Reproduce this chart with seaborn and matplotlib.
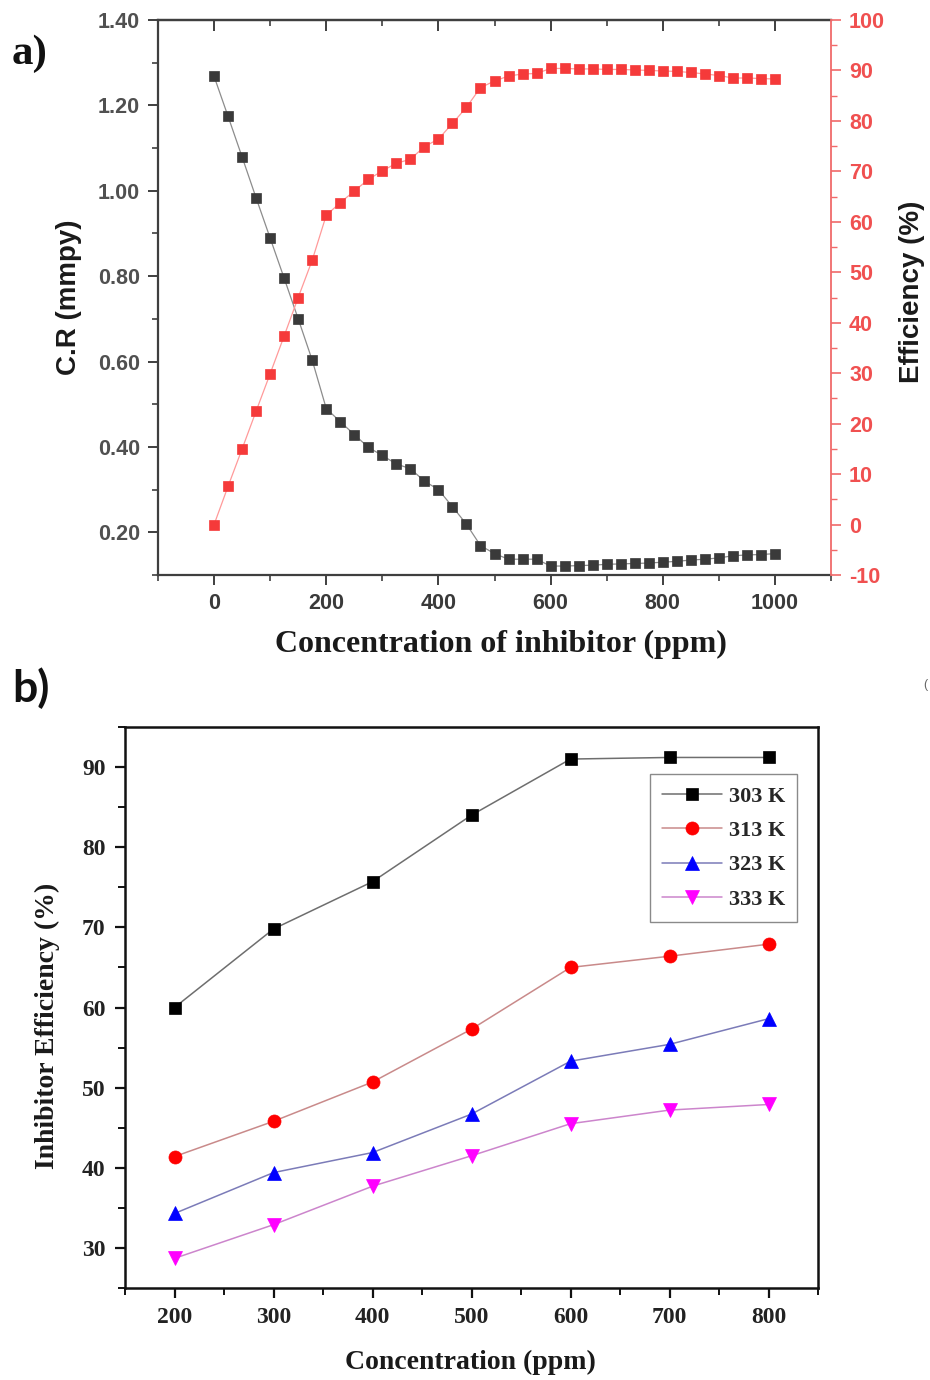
import matplotlib
matplotlib.use("Agg")
import matplotlib.pyplot as plt
import seaborn as sns
from matplotlib.ticker import FixedLocator, FormatStrFormatter

# ---------------- data: panel a ----------------
conc_a = list(range(0, 1001, 25))
cr_mmpy = [1.268, 1.174, 1.079, 0.983, 0.889, 0.795, 0.700, 0.603, 0.490, 0.459,
           0.429, 0.399, 0.380, 0.360, 0.349, 0.320, 0.300, 0.260, 0.219, 0.169,
           0.150, 0.137, 0.137, 0.137, 0.121, 0.121, 0.122, 0.123, 0.125, 0.126,
           0.127, 0.128, 0.130, 0.132, 0.135, 0.137, 0.140, 0.145, 0.147, 0.148,
           0.150]
efficiency_a = [0.0, 7.6, 15.0, 22.5, 29.9, 37.4, 45.0, 52.4, 61.3, 63.8,
                66.1, 68.4, 70.1, 71.6, 72.4, 74.9, 76.4, 79.5, 82.7, 86.6,
                87.9, 88.9, 89.3, 89.4, 90.4, 90.4, 90.3, 90.3, 90.2, 90.2,
                90.1, 90.0, 89.9, 89.8, 89.6, 89.3, 89.0, 88.5, 88.5, 88.4,
                88.3]

# ---------------- data: panel b ----------------
conc_b = [200, 300, 400, 500, 600, 700, 800]
eff_303 = [60.0, 69.8, 75.7, 84.0, 91.0, 91.2, 91.2]
eff_313 = [41.4, 45.8, 50.7, 57.3, 65.0, 66.4, 67.9]
eff_323 = [34.3, 39.4, 41.9, 46.7, 53.3, 55.4, 58.6]
eff_333 = [28.7, 32.9, 37.7, 41.5, 45.5, 47.2, 47.9]
labels_b = ["303 K", "313 K", "323 K", "333 K"]

sns.set_style("ticks")
plt.rcParams["font.family"] = ["Liberation Sans", "DejaVu Sans"]
plt.rcParams["axes.unicode_minus"] = False

SANS = "Liberation Sans"
SERIF = "Liberation Serif"
DARK = "#3f3f3f"
REDAX = "#f06a6a"

fig = plt.figure(figsize=(9.3, 13.8), dpi=100)

# ================= panel a =================
ax1 = fig.add_axes([158/930, 1-575/1380, (831-158)/930, (575-20)/1380])
ax2 = ax1.twinx()

sns.lineplot(x=conc_a, y=cr_mmpy, ax=ax1, errorbar=None, color="#8c8c8c",
             linewidth=0.9, marker="s", markersize=7.9,
             markerfacecolor="#3a3a3a", markeredgecolor="#3a3a3a",
             markeredgewidth=0.5)
sns.lineplot(x=conc_a, y=efficiency_a, ax=ax2, errorbar=None, color="#ff9a9a",
             linewidth=0.9, marker="s", markersize=7.9,
             markerfacecolor="#f53a3a", markeredgecolor="#f53a3a",
             markeredgewidth=0.5)

ax1.set_xlim(-100, 1100)
ax1.set_ylim(0.10, 1.40)
ax2.set_ylim(-10, 100)

ax1.xaxis.set_major_locator(FixedLocator([0, 200, 400, 600, 800, 1000]))
ax1.xaxis.set_minor_locator(FixedLocator([-100, 100, 300, 500, 700, 900, 1100]))
ax1.yaxis.set_major_locator(FixedLocator([0.2, 0.4, 0.6, 0.8, 1.0, 1.2, 1.4]))
ax1.yaxis.set_minor_locator(FixedLocator([0.1, 0.3, 0.5, 0.7, 0.9, 1.1, 1.3]))
ax1.yaxis.set_major_formatter(FormatStrFormatter("%.2f"))
ax2.yaxis.set_major_locator(FixedLocator(list(range(-10, 101, 10))))
ax2.yaxis.set_minor_locator(FixedLocator(list(range(-5, 100, 10))))

for side in ["left", "bottom", "top"]:
    ax1.spines[side].set_color(DARK)
    ax1.spines[side].set_linewidth(1.6)
ax1.spines["right"].set_visible(False)
for side in ["left", "bottom", "top"]:
    ax2.spines[side].set_visible(False)
ax2.spines["right"].set_color(REDAX)
ax2.spines["right"].set_linewidth(1.3)

ax1.tick_params(axis="both", which="major", direction="out", length=7, width=1.4,
                color=DARK, labelsize=15.5, labelcolor="#505050", pad=6,
                top=False, right=False)
ax1.tick_params(axis="both", which="minor", direction="out", length=4, width=1.2,
                color=DARK, top=False, right=False)
ax1.tick_params(axis="x", labelcolor="#3a3a3a")
ax2.tick_params(axis="y", which="major", direction="out", length=7, width=1.2,
                color=REDAX, labelsize=15.5, labelcolor="#f05050", pad=6)
ax2.tick_params(axis="y", which="minor", direction="out", length=4, width=1.0,
                color=REDAX)

sec = ax1.secondary_xaxis("top")
sec.xaxis.set_major_locator(FixedLocator([0, 200, 400, 600, 800, 1000]))
sec.xaxis.set_minor_locator(FixedLocator([100, 300, 500, 700, 900]))
sec.tick_params(axis="x", which="major", direction="in", length=8, width=1.4,
                color=DARK, labeltop=False)
sec.tick_params(axis="x", which="minor", direction="in", length=4, width=1.2,
                color=DARK)
sec.spines["top"].set_color(DARK)
sec.spines["top"].set_linewidth(1.6)

for lab in ax1.get_xticklabels() + ax1.get_yticklabels() + ax2.get_yticklabels():
    lab.set_fontfamily(SANS)
    lab.set_fontweight("bold")

ax1.set_xlabel("Concentration of inhibitor (ppm)", fontfamily=SERIF,
               fontweight="bold", fontsize=23, color="#1a1a1a")
ax1.xaxis.label.set_verticalalignment("center")
ax1.xaxis.set_label_coords(0.5097, -0.1243)
ax1.set_ylabel("C.R (mmpy)", fontfamily=SANS, fontweight="bold", fontsize=20,
               color="#1a1a1a")
ax1.yaxis.label.set_verticalalignment("center")
ax1.yaxis.set_label_coords(-0.1322, 0.501)
ax2.set_ylabel("Efficiency (%)", fontfamily=SANS, fontweight="bold", fontsize=20,
               color="#1a1a1a")
ax2.yaxis.label.set_verticalalignment("center")
ax2.yaxis.set_label_coords(1.1204, 0.510)

fig.text(12/930, 1-54/1380, "a)", fontfamily=SERIF, fontweight="bold",
         fontsize=31, ha="left", va="center", color="#111111")

# ================= panel b =================
ax3 = fig.add_axes([125/930, 1-1288/1380, (818-125)/930, (1288-727)/1380])

series_b = [eff_303, eff_313, eff_323, eff_333]
line_cols = ["#6e6e6e", "#c98a8a", "#7b7bb8", "#cc85cc"]
mark_cols = ["#000000", "#ff0000", "#0000ff", "#ff00ff"]
markers = ["s", "o", "^", "v"]
msizes = [8.6, 9.4, 9.8, 9.8]
for vals, lab, lc, mc, mk, ms in zip(series_b, labels_b, line_cols, mark_cols,
                                     markers, msizes):
    sns.lineplot(x=conc_b, y=vals, ax=ax3, errorbar=None, color=lc, linewidth=1.1,
                 marker=mk, markersize=ms, markerfacecolor=mc,
                 markeredgecolor=mc, markeredgewidth=0.5, label=lab)

ax3.set_xlim(150, 850)
ax3.set_ylim(25, 95)
ax3.xaxis.set_major_locator(FixedLocator(conc_b))
ax3.xaxis.set_minor_locator(FixedLocator([150, 250, 350, 450, 550, 650, 750, 850]))
ax3.yaxis.set_major_locator(FixedLocator([30, 40, 50, 60, 70, 80, 90]))
ax3.yaxis.set_minor_locator(FixedLocator([25, 35, 45, 55, 65, 75, 85, 95]))

for side in ax3.spines:
    ax3.spines[side].set_color("#111111")
    ax3.spines[side].set_linewidth(1.8)
ax3.tick_params(axis="both", which="major", direction="out", length=7, width=1.6,
                color="#111111", labelsize=17, labelcolor="#222222", pad=7,
                top=False, right=False)
ax3.tick_params(axis="both", which="minor", direction="out", length=5, width=1.4,
                color="#111111", top=False, right=False)
for lab in ax3.get_xticklabels() + ax3.get_yticklabels():
    lab.set_fontfamily(SERIF)
    lab.set_fontweight("bold")

ax3.set_xlabel("Concentration (ppm)", fontfamily=SERIF, fontweight="bold",
               fontsize=20, color="#1a1a1a")
ax3.xaxis.label.set_verticalalignment("center")
ax3.xaxis.set_label_coords(0.4986, -0.133)
ax3.set_ylabel("Inhibitor Efficiency (%)", fontfamily=SERIF, fontweight="bold",
               fontsize=20, color="#1a1a1a")
ax3.yaxis.label.set_verticalalignment("center")
ax3.yaxis.set_label_coords(-0.1126, 0.467)

leg = ax3.legend(loc="upper right", bbox_to_anchor=(0.9697, 0.9162),
                 borderaxespad=0, frameon=True, fancybox=False, framealpha=1,
                 edgecolor="#8a8a8a", handlelength=2.7, handletextpad=0.3,
                 labelspacing=0.62, borderpad=0.55,
                 prop={"family": SERIF, "weight": "bold", "size": 16})
leg.get_frame().set_linewidth(1.0)

fig.text(12/930, 1-688/1380, "b)", fontfamily="Lato", fontweight="bold",
         fontsize=32, ha="left", va="center", color="#111111")
fig.text(925/930, 1-685/1380, "(", fontfamily=SANS, fontsize=9,
         ha="center", va="center", color="#666666")

fig.savefig("out.png", dpi=100)
